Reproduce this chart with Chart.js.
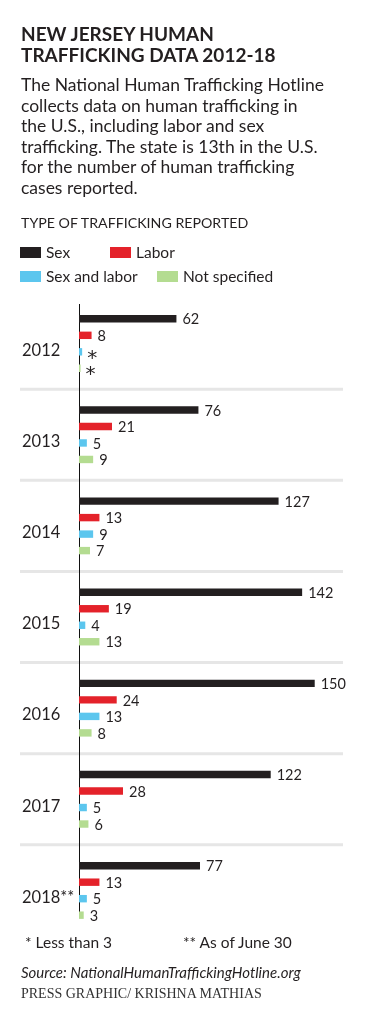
<!DOCTYPE html>
<html>
<head>
<meta charset="utf-8">
<script src="https://cdn.jsdelivr.net/npm/chart.js@4"></script>
<style>
  html, body { margin:0; padding:0; background:#fff; }
  body { width:369px; height:1011px; position:relative; overflow:hidden; font-family: Lato, "Open Sans", sans-serif; color:#231f20; }
  #c { position:absolute; left:0; top:0; }
  .t { position:absolute; left:21px; white-space:nowrap; }
  #title { top:24px; font-weight:bold; font-size:19px; line-height:20.6px; }
  #body { top:75px; font-size:17.5px; line-height:20.6px; }
  #lh { top:213px; font-size:14.2px; line-height:20px; }
  .lg { position:absolute; font-size:15.5px; line-height:18px; white-space:nowrap; }
  .sw { position:absolute; width:21px; height:11px; }
  #f1 { left:25px; top:933px; font-size:15.5px; line-height:18px; }
  #f2 { left:183px; top:933px; font-size:15.5px; line-height:18px; }
  #src { top:963px; font-size:15px; font-style:italic; line-height:18px; }
  #cred { top:985px; font-family:"Liberation Serif", "DejaVu Serif", serif; font-size:14px; line-height:18px; color:#333; }
</style>
</head>
<body>
<canvas id="c" width="369" height="1011"></canvas>
<div class="t" id="title">NEW JERSEY HUMAN<br>TRAFFICKING DATA 2012-18</div>
<div class="t" id="body">The National Human Trafficking Hotline<br>collects data on human trafficking in<br>the U.S., including labor and sex<br>trafficking. The state is 13th in the U.S.<br>for the number of human trafficking<br>cases reported.</div>
<div class="t" id="lh">TYPE OF TRAFFICKING REPORTED</div>
<div id="legend"></div>
<div class="t" id="f1">* Less than 3</div>
<div class="t" id="f2">** As of June 30</div>
<div class="t" id="src">Source: NationalHumanTraffickingHotline.org</div>
<div class="t" id="cred">PRESS GRAPHIC/ KRISHNA MATHIAS</div>
<script>
// ---- data ----
const years = ['2012', '2013', '2014', '2015', '2016', '2017', '2018**'];
const seriesNames = ['Sex', 'Labor', 'Sex and labor', 'Not specified'];
const sex = [62, 76, 127, 142, 150, 122, 77];
const labor = [8, 21, 13, 19, 24, 28, 13];
const sexAndLabor = [2, 5, 9, 4, 13, 5, 5];      // 2012: "less than 3"
const notSpecified = [1, 9, 7, 13, 8, 6, 3];     // 2012: "less than 3"

const colors = ['#231f20', '#e4222a', '#5cc6ee', '#b4dc91'];
const ink = '#231f20';

// ---- HTML legend ----
const legendPos = [
  {x: 20, y: 247}, {x: 110, y: 247}, {x: 20, y: 271}, {x: 157, y: 271}
];
const lg = document.getElementById('legend');
seriesNames.forEach((n, i) => {
  const p = legendPos[i];
  const s = document.createElement('div');
  s.className = 'sw'; s.style.left = p.x + 'px'; s.style.top = p.y + 'px'; s.style.background = colors[i];
  lg.appendChild(s);
  const t = document.createElement('div');
  t.className = 'lg'; t.textContent = n; t.style.left = (p.x + 26) + 'px'; t.style.top = (p.y - 4) + 'px';
  lg.appendChild(t);
});

// ---- plugins ----
const decor = {
  id: 'decor',
  beforeDatasetsDraw(chart) {
    const {ctx, chartArea, scales: {y}} = chart;
    ctx.save();
    ctx.strokeStyle = '#e6e6e6';
    ctx.lineWidth = 3;
    for (let i = 0; i < years.length - 1; i++) {
      const yy = (y.getPixelForTick(i) + y.getPixelForTick(i + 1)) / 2;
      ctx.beginPath();
      ctx.moveTo(20, yy);
      ctx.lineTo(chartArea.right, yy);
      ctx.stroke();
    }
    ctx.strokeStyle = '#111';
    ctx.lineWidth = 1;
    ctx.beginPath();
    ctx.moveTo(chartArea.left + 0.5, chartArea.top + 6);
    ctx.lineTo(chartArea.left + 0.5, chartArea.bottom - 18);
    ctx.stroke();
    ctx.restore();
  },
  afterDatasetsDraw(chart) {
    const {ctx} = chart;
    ctx.save();
    ctx.fillStyle = ink;
    ctx.textAlign = 'left';
    chart.data.datasets.forEach((ds, di) => {
      chart.getDatasetMeta(di).data.forEach((bar, i) => {
        const v = ds.data[i];
        if (v < 3) {
          ctx.font = '20px "DejaVu Sans", sans-serif';
          ctx.textBaseline = 'alphabetic';
          ctx.fillText('*', bar.x + 5, bar.y + 12);
        } else {
          ctx.font = '14.5px Lato, "Open Sans", sans-serif';
          ctx.textBaseline = 'middle';
          ctx.fillText(String(v), bar.x + 6, bar.y + 1);
        }
      });
    });
    ctx.restore();
  }
};

new Chart(document.getElementById('c'), {
  type: 'bar',
  data: {
    labels: years,
    datasets: [sex, labor, sexAndLabor, notSpecified].map((d, i) => ({
      label: seriesNames[i],
      data: d,
      backgroundColor: colors[i],
      borderWidth: 0,
      categoryPercentage: 0.724,
      barPercentage: 0.45
    }))
  },
  options: {
    indexAxis: 'y',
    responsive: false,
    animation: false,
    events: [],
    layout: { padding: { top: 298, bottom: 75, left: 22, right: 26 } },
    plugins: { legend: { display: false }, tooltip: { enabled: false } },
    scales: {
      x: { display: false, min: 0, max: 168 },
      y: {
        grid: { display: false },
        border: { display: false },
        ticks: {
          color: ink,
          font: { family: 'Lato, "Open Sans", sans-serif', size: 16.5 },
          crossAlign: 'far',
          labelOffset: 7,
          padding: 0
        },
        afterFit(scale) { scale.width = 57; }
      }
    }
  },
  plugins: [decor]
});
</script>
</body>
</html>
